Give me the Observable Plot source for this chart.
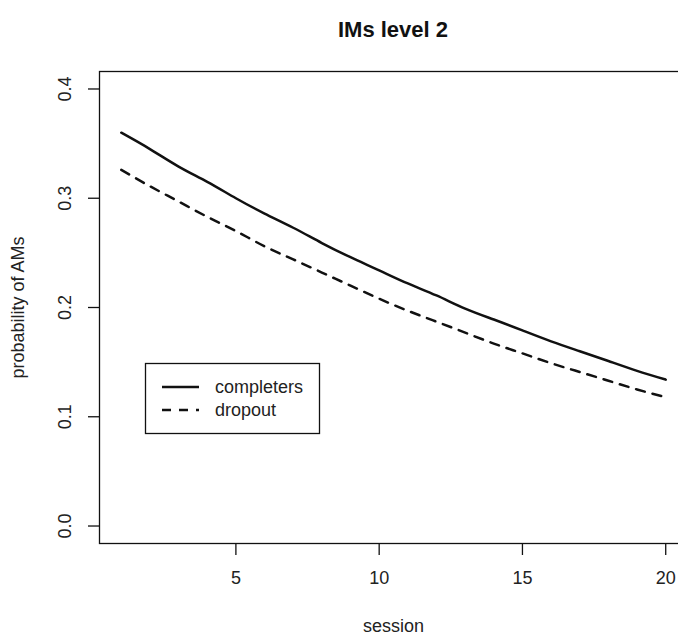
<!DOCTYPE html>
<html>
<head>
<meta charset="utf-8">
<script src="https://cdn.jsdelivr.net/npm/d3@7"></script>
<script src="https://cdn.jsdelivr.net/npm/@observablehq/plot@0.6"></script>
<style>
  html, body { margin: 0; padding: 0; background: #fff; overflow: hidden; }
  #wrap { position: relative; width: 678px; height: 635px; overflow: hidden; background: #fff;
          font-family: "Liberation Sans", Arial, Helvetica, sans-serif; color: #111; }
  #title { position: absolute; left: 0; top: 0; width: 786px; height: 60px; line-height: 60px;
           text-align: center; font-weight: bold; font-size: 22px; }
  #chart { position: absolute; left: 0; top: 60px; width: 700px; }
  #chart svg { max-width: none !important; width: 700px; height: 575px; }
  #legend { position: absolute; left: 0; top: 0; pointer-events: none; }
</style>
</head>
<body>
<div id="wrap">
  <div id="title"></div>
  <div id="chart"></div>
</div>
<script>
const titleText = "IMs level 2";
const xLabel = "session";
const yLabel = "probability of AMs";
const seriesNames = ["completers", "dropout"];
const sessions = [1,2,3,4,5,6,7,8,9,10,11,12,13,14,15,16,17,18,19,20];
const completers = [0.360,0.345,0.329,0.315,0.300,0.286,0.273,0.259,0.246,0.234,0.222,0.211,0.199,0.189,0.179,0.169,0.160,0.151,0.142,0.134];
const dropout = [0.326,0.311,0.297,0.283,0.270,0.256,0.244,0.232,0.220,0.208,0.197,0.187,0.177,0.167,0.158,0.149,0.141,0.133,0.125,0.118];
const xTicks = [5, 10, 15, 20];
const yTicks = [0.0, 0.1, 0.2, 0.3, 0.4];

const data = [];
sessions.forEach((s, i) => {
  data.push({session: s, p: completers[i], group: seriesNames[0]});
  data.push({session: s, p: dropout[i], group: seriesNames[1]});
});

document.getElementById("title").textContent = titleText;

const font = "Liberation Sans, Arial, Helvetica, sans-serif";
const chart = Plot.plot({
  width: 700,
  height: 575,
  marginLeft: 99,
  marginRight: 13,
  marginTop: 11,
  marginBottom: 92,
  style: {fontFamily: font, fontSize: "18px", color: "#111", background: "#fff", maxWidth: "none"},
  x: {domain: [0.24, 20.76]},
  y: {domain: [-0.016, 0.416]},
  marks: [
    Plot.frame({stroke: "#111", strokeWidth: 1.3}),
    Plot.axisX({ticks: xTicks, tickSize: 12, tickFormat: () => "", label: null, stroke: "#111", strokeWidth: 1.3}),
    Plot.axisY({ticks: yTicks, tickSize: 11, tickFormat: () => "", label: null, stroke: "#111", strokeWidth: 1.3}),
    Plot.text(xTicks, {x: d => d, text: d => String(d), frameAnchor: "bottom", dy: 40, fontSize: 18, fill: "#222"}),
    Plot.text(yTicks, {y: d => d, text: d => d.toFixed(1), frameAnchor: "left", textAnchor: "middle", dx: -34, rotate: -90, fontSize: 18, fill: "#222"}),
    Plot.text([xLabel], {text: d => d, frameAnchor: "bottom", dy: 88, fontSize: 18, fill: "#222"}),
    Plot.text([yLabel], {text: d => d, frameAnchor: "left", textAnchor: "middle", dx: -81, rotate: -90, fontSize: 18, fill: "#222"}),
    Plot.line(data.filter(d => d.group === seriesNames[0]), {x: "session", y: "p", stroke: "#111", strokeWidth: 2.5, curve: "natural"}),
    Plot.line(data.filter(d => d.group === seriesNames[1]), {x: "session", y: "p", stroke: "#111", strokeWidth: 2.5, strokeDasharray: "9,8", curve: "natural"})
  ]
});
document.getElementById("chart").appendChild(chart);

// legend overlay (R-style boxed legend)
const leg = d3.select("#wrap").append("svg")
  .attr("id", "legend").attr("width", 678).attr("height", 635);
const lg = leg.append("g").attr("font-family", font).attr("font-size", 18).attr("fill", "#222");
lg.append("rect").attr("x", 145.5).attr("y", 363.5).attr("width", 174).attr("height", 70)
  .attr("fill", "none").attr("stroke", "#111").attr("stroke-width", 1.3);
const dashes = [null, "9,8"];
const rowsY = [387, 410];
seriesNames.forEach((name, i) => {
  lg.append("line").attr("x1", 162).attr("x2", 199).attr("y1", rowsY[i]).attr("y2", rowsY[i])
    .attr("stroke", "#111").attr("stroke-width", 2.5).attr("stroke-dasharray", dashes[i]);
  lg.append("text").attr("x", 215).attr("y", rowsY[i]).attr("dy", "0.35em").text(name);
});
</script>
</body>
</html>
